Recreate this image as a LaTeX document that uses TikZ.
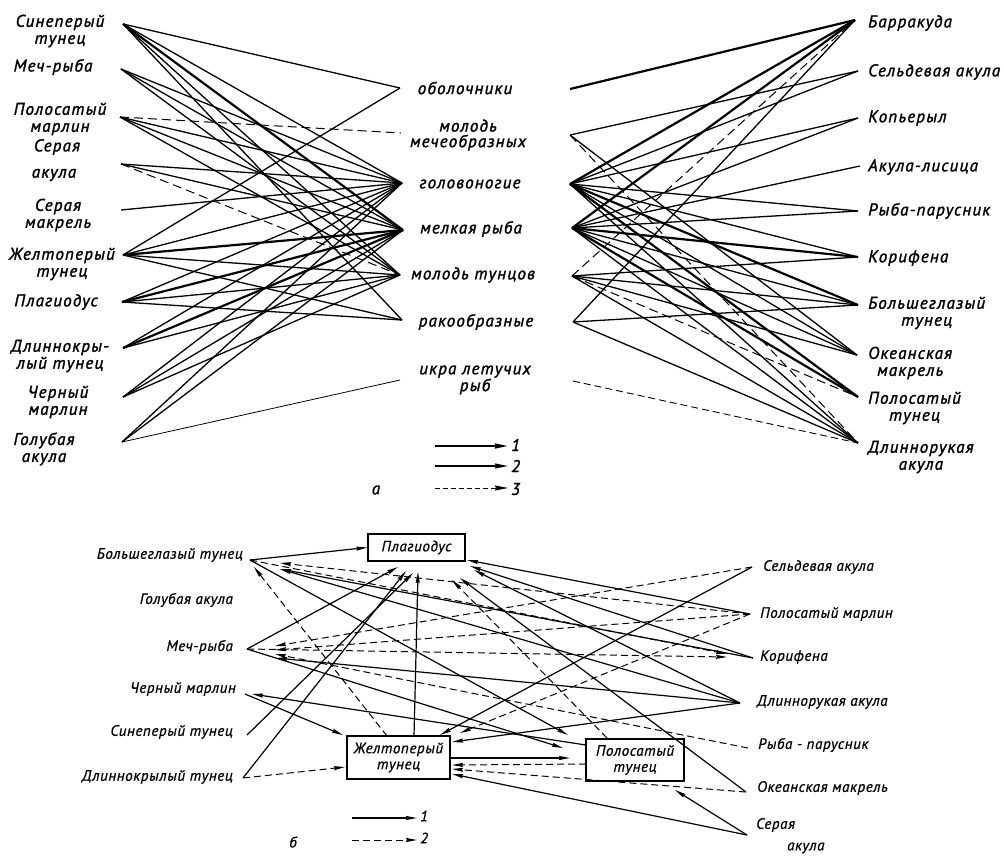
\documentclass[tikz,border=0pt]{standalone}
\usepackage{fontspec}
\setmainfont{PT Sans}
\newfontfamily\topf{PT Sans}[LetterSpace=7,ItalicFeatures={FakeBold=1.6}]
\newfontfamily\botf{PT Sans}[LetterSpace=4,ItalicFeatures={FakeBold=0.8}]
\usetikzlibrary{arrows.meta}
\tikzset{
  lt/.style={font=\topf\itshape\fontsize{17}{17}\selectfont, align=center, inner sep=0pt},
  lm/.style={font=\topf\itshape\fontsize{17}{15.5}\selectfont, align=center, inner sep=0pt},
  lr/.style={font=\topf\itshape\fontsize{17}{17}\selectfont, align=center, inner sep=0pt, anchor=west},
  lb/.style={font=\botf\itshape\fontsize{15}{15}\selectfont, inner sep=0pt},
  thk/.style={line width=2.2pt},
  med/.style={line width=1.3pt},
  dsh/.style={line width=1.0pt, dash pattern=on 9pt off 5pt},
  sol/.style={line width=1.2pt, -{Stealth[length=11pt,width=4pt,inset=1pt]}},
  das/.style={line width=1.0pt, dash pattern=on 7pt off 4pt, -{Stealth[length=11pt,width=4pt,inset=1pt]}},
  fbox/.style={draw, line width=1.2pt, align=center, inner sep=2pt, font=\botf\itshape\fontsize{15}{16}\selectfont}
}
\begin{document}
\begin{tikzpicture}[x=1pt,y=-1pt]
\useasboundingbox (0,0) rectangle (1004,857);

% ---------------- part a: labels ----------------
\node[lt] (tSin) at (60,31) {Синеперый\\тунец};
\node[lt] (tMech) at (53,67) {Меч-рыба};
\node[lt] (tPM) at (60,119) {Полосатый\\марлин};
\node[lt] (tSA1) at (57,147) {Серая};
\node[lt] (tSA2) at (54,175) {акула};
\node[lt] (tSM) at (58,215) {Серая\\макрель};
\node[lt] (tZh) at (62,264) {Желтоперый\\тунец};
\node[lt] (tPl) at (56,302) {Плагиодус};
\node[lt] (tDl) at (60,356) {Длиннокры-\\лый тунец};
\node[lt] (tCh) at (58,402) {Черный\\марлин};
\node[lt] (tGol) at (44,449) {Голубая\\акула};

\node[lt] (fObol) at (465,88) {оболочники};
\node[lm] (fMech) at (468,135) {молодь\\мечеобразных};
\node[lt] (fGol) at (470,184) {головоногие};
\node[lt] (fMel) at (471,229) {мелкая рыба};
\node[lt] (fMT) at (473,275) {молодь тунцов};
\node[lt] (fRak) at (476,322) {ракообразные};
\node[lm] (fIkr) at (475,380) {икра летучих\\рыб};

\node[lr] (rBar) at (868,23) {Барракуда};
\node[lr] (rSel) at (868,72) {Сельдевая акула};
\node[lr] (rKop) at (868,118) {Копьерыл};
\node[lr] (rLis) at (868,167) {Акула-лисица};
\node[lr] (rPar) at (868,211) {Рыба-парусник};
\node[lr] (rKor) at (868,258) {Корифена};
\node[lr] (rBol) at (868,313) {Большеглазый\\тунец};
\node[lr] (rOk) at (868,363) {Океанская\\макрель};
\node[lr] (rPT) at (868,408) {Полосатый\\тунец};
\node[lr] (rDl) at (868,457) {Длиннорукая\\акула};

% anchor points
\coordinate (L1) at (123,24);
\coordinate (L2) at (121,69);
\coordinate (L3) at (120,117);
\coordinate (L4) at (121,164);
\coordinate (L5) at (121,210);
\coordinate (L6) at (123,255);
\coordinate (L7) at (122,302);
\coordinate (L8) at (123,348);
\coordinate (L9) at (123,397);
\coordinate (L10) at (122,442);

\coordinate (FL1) at (400,88);
\coordinate (FL2) at (401,133);
\coordinate (FL3) at (402,183);
\coordinate (FL4) at (403,230);
\coordinate (FL5) at (400,275);
\coordinate (FL6) at (402,320);
\coordinate (FL7) at (400,380);

\coordinate (FR1) at (570,89);
\coordinate (FR2) at (570,135);
\coordinate (FR3) at (570,184);
\coordinate (FR4) at (572,228);
\coordinate (FR5) at (572,276);
\coordinate (FR6) at (573,322);
\coordinate (FR7) at (573,381);

\coordinate (R1) at (855,20);
\coordinate (R2) at (858,71);
\coordinate (R3) at (858,118);
\coordinate (R4) at (860,166);
\coordinate (R5) at (858,211);
\coordinate (R6) at (858,257);
\coordinate (R7) at (858,305);
\coordinate (R8) at (857,355);
\coordinate (R9) at (858,397);
\coordinate (R10) at (858,443);

% left edges
\draw[med] (L1) -- (FL1);
\draw[med] (L1) -- (FL3);
\draw[thk] (L1) -- (FL4);
\draw[med] (L1) -- (FL5);
\draw[med] (L1) -- (FL6);
\draw[med] (L2) -- (FL3);
\draw[med] (L2) -- (FL4);
\draw[med] (L2) -- (FL5);
\draw[dsh] (L3) -- (FL2);
\draw[med] (L3) -- (FL3);
\draw[med] (L3) -- (FL4);
\draw[med] (L3) -- (FL5);
\draw[med] (L4) -- (FL3);
\draw[med] (L4) -- (FL4);
\draw[dsh] (L4) -- (FL5);
\draw[med] (L5) -- (FL3);
\draw[med] (L6) -- (FL1);
\draw[med] (L6) -- (FL3);
\draw[thk] (L6) -- (FL4);
\draw[med] (L6) -- (FL5);
\draw[med] (L6) -- (FL6);
\draw[med] (L7) -- (FL3);
\draw[thk] (L7) -- (FL4);
\draw[med] (L7) -- (FL5);
\draw[med] (L7) -- (FL6);
\draw[med] (L8) -- (FL3);
\draw[thk] (L8) -- (FL4);
\draw[med] (L8) -- (FL5);
\draw[med] (L9) -- (FL3);
\draw[med] (L9) -- (FL4);
\draw[med] (L9) -- (FL5);
\draw[med] (L10) -- (FL3);
\draw[med] (L10) -- (FL4);
\draw[line width=0.8pt] (L10) -- (FL7);

% right edges
\draw[thk] (FR1) -- (R1);
\draw[med] (FR2) -- (R2);
\draw[dsh] (FR2) -- (R10);
\draw[med] (FR2) -- (R8);
\draw[thk] (FR3) -- (R1);
\draw[med] (FR3) -- (R2);
\draw[med] (FR3) -- (R3);
\draw[med] (FR3) -- (R5);
\draw[med] (FR3) -- (R6);
\draw[thk] (FR3) -- (R7);
\draw[med] (FR3) -- (R8);
\draw[thk] (FR3) -- (R9);
\draw[med] (FR3) -- (R10);
\draw[thk] (FR4) -- (R1);
\draw[med] (FR4) -- (R3);
\draw[med] (FR4) -- (R4);
\draw[med] (FR4) -- (R5);
\draw[thk] (FR4) -- (R6);
\draw[med] (FR4) -- (R7);
\draw[med] (FR4) -- (R8);
\draw[thk] (FR4) -- (R9);
\draw[med] (FR4) -- (R10);
\draw[dsh] (FR5) -- (R1);
\draw[med] (FR5) -- (R6);
\draw[med] (FR5) -- (R7);
\draw[med] (FR5) -- (R8);
\draw[dsh] (FR5) -- (R9);
\draw[med] (FR5) -- (R10);
\draw[med] (FR6) -- (R1);
\draw[med] (FR6) -- (R7);
\draw[med] (FR6) -- (R10);
\draw[line width=0.9pt, dash pattern=on 7pt off 4pt] (FR7) -- (R10);

% legend a
\coordinate (la1) at (435,446); \coordinate (la1e) at (508,446);
\coordinate (la2) at (435,466); \coordinate (la2e) at (508,466);
\coordinate (la3) at (435,488); \coordinate (la3e) at (508,488);
\draw[line width=2.2pt, -{Stealth[length=13pt,width=5pt,inset=1pt]}] (la1) -- (la1e);
\draw[line width=1.4pt, -{Stealth[length=13pt,width=5pt,inset=1pt]}] (la2) -- (la2e);
\draw[line width=0.9pt, dash pattern=on 5pt off 3pt, -{Stealth[length=13pt,width=5pt,inset=1pt]}] (la3) -- (la3e);
\node[lt, anchor=west] (n1) at (511,445) {1};
\node[lt, anchor=west] (n2) at (511,466) {2};
\node[lt, anchor=west] (n3) at (511,489) {3};
\node[lt] (na) at (376,490) {а};

% ---------------- part b ----------------
\node[lb, anchor=east] (bBol) at (243,555) {Большеглазый тунец};
\node[lb, anchor=east] (bGol) at (233,600) {Голубая акула};
\node[lb, anchor=east] (bMech) at (233,647) {Меч-рыба};
\node[lb, anchor=east] (bCh) at (236,689) {Черный марлин};
\node[lb, anchor=east] (bSin) at (233,732) {Синеперый тунец};
\node[lb, anchor=east] (bDl) at (233,777) {Длиннокрылый тунец};

\node[lb, anchor=west] (cSel) at (763,567) {Сельдевая акула};
\node[lb, anchor=west] (cPM) at (760,614) {Полосатый марлин};
\node[lb, anchor=west] (cKor) at (760,657) {Корифена};
\node[lb, anchor=west] (cDl) at (757,702) {Длиннорукая акула};
\node[lb, anchor=west] (cPar) at (758,745) {Рыба - парусник};
\node[lb, anchor=west] (cOk) at (757,788) {Океанская макрель};
\node[lb, anchor=west] (cSA1) at (756,825) {Серая};
\node[lb, anchor=west] (cSA2) at (787,848) {акула};

\node[fbox, minimum width=97pt, minimum height=27pt] (P) at (416.5,547.5) {Плагиодус};
\node[fbox, minimum width=103pt, minimum height=43pt] (ZH) at (398.5,757.5) {Желтоперый\\тунец};
\node[fbox, minimum width=98pt, minimum height=42pt] (PT) at (635,760) {Полосатый\\тунец};

\coordinate (B1) at (250,560);
\coordinate (B3) at (247,649);
\coordinate (B4) at (245,694);
\coordinate (B5) at (247,735);
\coordinate (B6) at (243,778);
\coordinate (C1) at (752,567);
\coordinate (C2) at (750,614);
\coordinate (C3) at (753,658);
\coordinate (C4) at (740,703);
\coordinate (C5) at (748,748);
\coordinate (C6) at (746,792);
\coordinate (C7) at (747,835);

\coordinate (pS1) at (398,567);
\coordinate (pS2) at (406,571);
\coordinate (pS3) at (413,573);
\coordinate (pS4) at (418,572);
\coordinate (pE1) at (467,560);
\coordinate (pE2) at (470,566);
\coordinate (pE3) at (474,570);
\coordinate (pE4) at (460,578);
\coordinate (pE5) at (452,580);
\coordinate (bgA) at (280,563);
\coordinate (bgB) at (280,569);
\coordinate (bgC) at (254,567);
\coordinate (mA) at (275,646);
\coordinate (mB) at (275,650);
\coordinate (mC) at (275,654);
\coordinate (mD) at (276,658);
\coordinate (korA) at (727,654);
\coordinate (korB) at (727,657);
\coordinate (zT) at (414,736);
\coordinate (zTL) at (387,736);
\coordinate (zA) at (343,735);
\coordinate (zB) at (345,767);
\coordinate (zC) at (440,735);
\coordinate (zD) at (460,733);
\coordinate (zE) at (452,742);
\coordinate (zR) at (450,758);
\coordinate (zF) at (452,765);
\coordinate (zG) at (452,769);
\coordinate (zH) at (452,774);
\coordinate (ptA) at (568,735);
\coordinate (ptB) at (563,748);
\coordinate (ptD) at (570,758);
\coordinate (ptL) at (586,764);
\coordinate (ptT) at (607,738);
\coordinate (ptW) at (586,745);
\coordinate (ptBot) at (675,790);
\coordinate (chA) at (252,694);

% into Plagiodus
\draw[sol] (B1) -- (P.west);
\draw[sol] (B3) -- (pS1);
\draw[sol] (B6) -- (pS2);
\draw[sol] (B5) -- (pS3);
\draw[sol] (zT) -- (pS4);
\draw[sol] (C2) -- (pE1);
\draw[sol] (C3) -- (pE2);
\draw[sol] (C4) -- (pE3);
\draw[sol] (C6) -- (pE4);
\draw[das] (ptT) -- (pE5);
% into Bolsheglazyi
\draw[das] (C2) -- (bgA);
\draw[sol] (C3) -- (bgB);
\draw[sol] (C4) -- (bgB);
\draw[das] (zTL) -- (bgC);
% into Korifena
\draw[das] (B1) -- (korA);
\draw[das] (B3) -- (korB);
% into Mech-ryba
\draw[das] (C1) -- (mA);
\draw[das] (C2) -- (mB);
\draw[das] (C5) -- (mC);
\draw[sol] (C4) -- (mD);
% into Polosatyi tunec
\draw[sol] (B1) -- (ptA);
\draw[sol] (B3) -- (ptB);
\draw[sol] (zR) -- (ptD);
\draw[sol] (C7) -- (ptBot);
% into Chernyi marlin
\draw[sol] (ptW) -- (chA);
% into Zheltoperyi
\draw[sol] (B4) -- (zA);
\draw[das] (B6) -- (zB);
\draw[sol] (C1) -- (zC);
\draw[das] (C2) -- (zD);
\draw[sol] (C4) -- (zE);
\draw[das] (ptL) -- (zF);
\draw[das] (C6) -- (zG);
\draw[sol] (C7) -- (zH);

% legend b
\coordinate (lb1) at (352,818); \coordinate (lb1e) at (417,818);
\coordinate (lb2) at (352,840); \coordinate (lb2e) at (417,840);
\draw[sol] (lb1) -- (lb1e);
\draw[das] (lb2) -- (lb2e);
\node[lb, anchor=west] (m1) at (420,816) {1};
\node[lb, anchor=west] (m2) at (420,838) {2};
\node[lb] (nb) at (293,842) {б};
\end{tikzpicture}
\end{document}
